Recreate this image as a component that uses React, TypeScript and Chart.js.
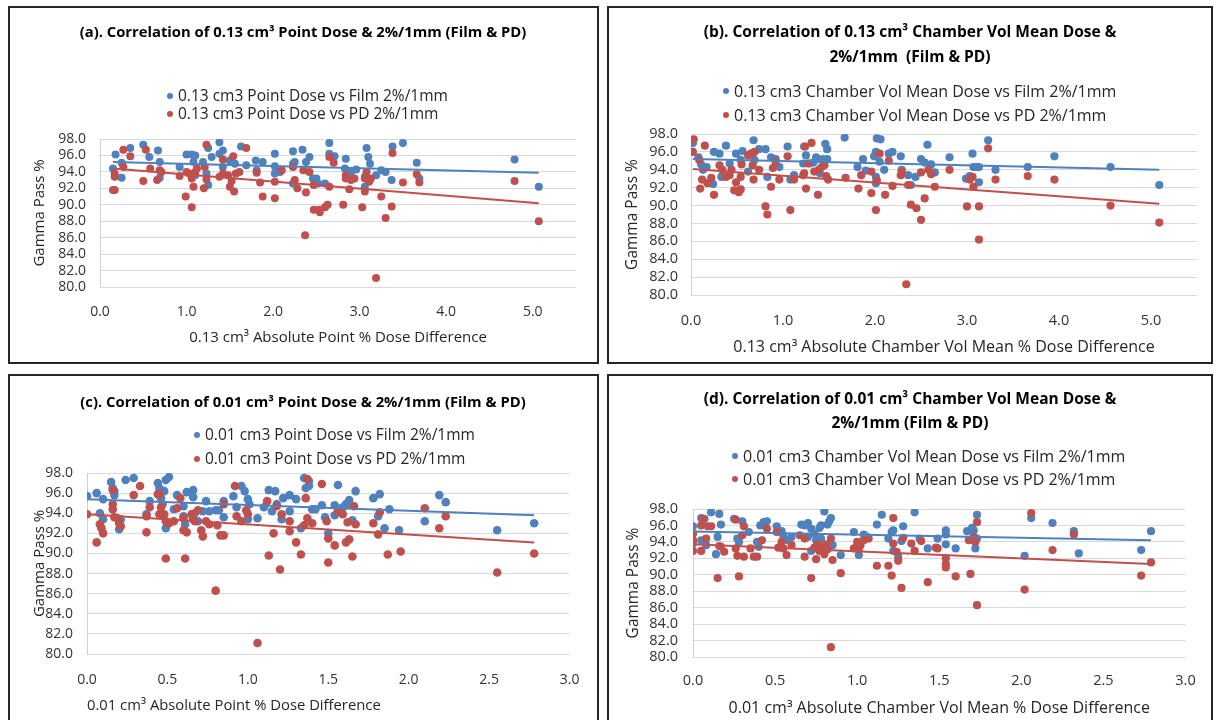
import React, { useEffect, useRef } from "react";
import { Chart, registerables } from "chart.js";

Chart.register(...registerables);

const FONT = "'Open Sans', 'Noto Sans', sans-serif";
const BLUE = "#4F81BD";
const RED = "#C0504D";

// ---------- tick labels ----------
const yTicks = [80, 82, 84, 86, 88, 90, 92, 94, 96, 98];
const xTicksWide = [0, 1, 2, 3, 4, 5];
const xTicksNarrow = [0, 0.5, 1, 1.5, 2, 2.5, 3];

// ---------- (a) 0.13 cm3 point dose ----------
const aFilm = [[0.15,94.4],[0.18,96.1],[0.25,95.1],[0.25,93.3],[0.35,96.9],[0.5,97.3],[0.57,95.8],[0.67,96.6],[0.69,93.3],[0.69,95.2],[0.92,94.6],[1.0,96.1],[1.06,96.1],[1.1,96.0],[1.08,95.2],[1.1,93.6],[1.19,95.2],[1.23,93.8],[1.25,96.9],[1.25,92.4],[1.29,95.8],[1.38,97.6],[1.38,96.2],[1.42,96.6],[1.42,94.6],[1.5,95.4],[1.56,95.0],[1.63,97.1],[1.69,94.8],[1.8,95.4],[1.81,94.2],[1.88,95.2],[2.02,96.2],[2.02,94.7],[2.02,93.8],[2.08,94.0],[2.23,96.5],[2.23,95.0],[2.23,92.6],[2.25,95.2],[2.34,96.7],[2.38,95.2],[2.42,95.8],[2.46,93.2],[2.5,93.2],[2.52,92.6],[2.6,92.6],[2.65,97.5],[2.65,96.2],[2.71,95.9],[2.84,95.6],[2.83,94.4],[2.9,94.0],[2.96,94.3],[3.08,96.9],[3.1,95.8],[3.12,95.0],[3.06,93.4],[3.06,92.2],[3.19,93.6],[3.25,94.2],[3.3,94.0],[3.37,93.0],[3.38,97.1],[3.5,97.5],[3.66,95.1],[3.69,93.2],[4.79,95.5],[5.07,92.2]];
const aPd = [[0.15,91.8],[0.17,91.8],[0.17,93.8],[0.17,93.4],[0.27,96.7],[0.27,94.6],[0.35,95.9],[0.5,92.9],[0.53,96.7],[0.58,94.4],[0.66,93.0],[0.69,94.2],[0.71,94.0],[0.92,93.5],[0.99,91.0],[1.0,94.0],[1.03,93.8],[1.06,89.7],[1.06,93.2],[1.08,92.2],[1.1,94.0],[1.12,94.4],[1.21,94.6],[1.2,92.0],[1.23,97.3],[1.23,93.1],[1.38,93.4],[1.42,95.5],[1.42,93.8],[1.48,93.6],[1.5,92.2],[1.52,92.9],[1.54,95.9],[1.55,91.6],[1.57,93.8],[1.61,94.0],[1.69,96.9],[1.81,93.9],[1.85,92.7],[1.88,91.0],[2.02,92.8],[2.02,90.8],[2.1,94.2],[2.23,94.6],[2.25,93.0],[2.28,92.0],[2.35,94.2],[2.37,86.3],[2.38,91.5],[2.42,94.0],[2.47,92.4],[2.47,89.4],[2.53,89.4],[2.54,89.1],[2.6,89.7],[2.63,90.0],[2.65,95.8],[2.65,92.2],[2.7,95.1],[2.81,90.0],[2.84,93.6],[2.84,93.2],[2.88,91.9],[2.9,93.0],[2.94,93.2],[3.03,89.7],[3.06,91.6],[3.06,93.2],[3.08,94.0],[3.11,92.8],[3.13,93.2],[3.19,81.1],[3.25,91.0],[3.3,88.4],[3.37,89.8],[3.38,96.3],[3.5,92.7],[3.66,93.7],[3.69,92.7],[4.79,92.9],[5.07,88.0]];
const aFilmTrend = [[0.15,95.2],[5.07,93.9]];
const aPdTrend = [[0.15,94.4],[5.07,90.2]];

// ---------- (b) 0.13 cm3 chamber vol mean dose ----------
const bFilm = [[0.02,97.0],[0.08,95.4],[0.11,94.6],[0.13,94.0],[0.17,94.3],[0.24,92.4],[0.25,96.0],[0.31,95.8],[0.33,93.2],[0.38,96.7],[0.42,94.7],[0.49,95.8],[0.54,95.1],[0.56,96.1],[0.62,93.8],[0.68,97.3],[0.69,95.1],[0.74,96.3],[0.81,96.3],[0.83,93.2],[0.87,95.4],[0.92,95.2],[0.96,94.3],[1.05,96.6],[1.08,92.9],[1.12,93.4],[1.23,96.6],[1.25,95.6],[1.22,94.7],[1.29,94.7],[1.33,94.8],[1.36,95.4],[1.4,93.6],[1.43,95.2],[1.46,96.9],[1.48,96.3],[1.48,95.2],[1.67,97.6],[1.81,94.3],[1.87,95.2],[1.9,93.9],[1.99,95.5],[2.01,96.0],[2.02,97.5],[2.06,97.4],[2.01,92.5],[2.01,93.2],[2.05,94.9],[2.1,94.0],[2.15,95.8],[2.19,96.0],[2.28,95.5],[2.29,94.0],[2.36,93.4],[2.39,92.3],[2.44,93.2],[2.5,95.2],[2.54,94.8],[2.57,96.8],[2.61,94.6],[2.65,93.7],[2.81,95.4],[2.99,93.0],[3.03,93.3],[3.06,95.8],[3.07,94.3],[3.1,94.3],[3.13,94.3],[3.13,92.6],[3.23,97.3],[3.31,94.0],[3.66,94.3],[3.95,95.5],[4.56,94.3],[5.09,92.3]];
const bPd = [[0.03,97.4],[0.02,96.0],[0.09,95.1],[0.1,91.9],[0.12,92.9],[0.15,96.7],[0.18,92.5],[0.22,93.1],[0.25,91.2],[0.31,94.5],[0.34,94.0],[0.38,93.2],[0.42,93.4],[0.44,94.0],[0.47,91.7],[0.49,92.6],[0.52,91.5],[0.54,91.8],[0.54,93.2],[0.55,94.6],[0.62,95.6],[0.65,95.8],[0.67,94.5],[0.69,96.0],[0.68,92.9],[0.74,94.0],[0.81,89.9],[0.83,89.0],[0.87,92.1],[0.89,94.2],[0.92,94.9],[0.96,92.9],[1.05,95.5],[1.08,89.5],[1.12,92.9],[1.22,93.4],[1.23,93.6],[1.24,96.6],[1.25,91.9],[1.27,94.7],[1.31,97.0],[1.34,93.8],[1.38,91.2],[1.39,94.0],[1.42,94.3],[1.45,94.5],[1.47,93.3],[1.49,92.9],[1.68,93.1],[1.82,91.9],[1.85,93.4],[1.96,91.4],[1.96,93.8],[2.01,89.5],[2.02,92.8],[2.05,95.8],[2.11,91.2],[2.15,95.0],[2.19,92.2],[2.28,93.4],[2.29,93.8],[2.34,81.2],[2.36,92.3],[2.39,90.1],[2.45,89.7],[2.5,88.4],[2.54,90.8],[2.5,93.7],[2.58,94.0],[2.61,93.5],[2.65,92.1],[2.81,94.0],[3.0,89.9],[3.03,92.9],[3.06,93.2],[3.07,92.1],[3.13,86.2],[3.13,89.9],[3.23,96.4],[3.31,92.9],[3.66,93.3],[3.95,92.9],[4.56,90.0],[5.09,88.1]];
const bFilmTrend = [[0.02,95.2],[5.09,94.0]];
const bPdTrend = [[0.02,94.1],[5.09,90.2]];

// ---------- (c) 0.01 cm3 point dose ----------
const cFilm = [[0.0,95.7],[0.06,96.0],[0.08,94.0],[0.1,95.4],[0.1,93.4],[0.15,97.1],[0.16,96.5],[0.17,96.2],[0.17,95.8],[0.2,92.4],[0.21,93.4],[0.24,97.3],[0.29,97.5],[0.37,93.9],[0.39,95.2],[0.44,97.0],[0.45,96.5],[0.46,95.5],[0.47,94.9],[0.48,96.2],[0.49,97.3],[0.51,97.6],[0.49,92.5],[0.54,94.4],[0.56,95.8],[0.6,94.7],[0.6,93.7],[0.61,92.9],[0.62,96.1],[0.66,96.3],[0.66,95.6],[0.67,94.0],[0.69,93.2],[0.72,94.2],[0.74,95.2],[0.76,94.2],[0.8,94.3],[0.82,94.3],[0.85,95.2],[0.85,93.6],[0.91,95.7],[0.93,94.6],[0.96,96.7],[0.98,96.2],[1.0,95.4],[1.01,94.9],[1.0,93.4],[1.06,93.5],[1.1,94.6],[1.13,96.3],[1.15,94.2],[1.17,96.2],[1.18,94.9],[1.21,93.4],[1.22,95.5],[1.26,95.8],[1.26,94.2],[1.3,95.4],[1.33,92.5],[1.35,97.5],[1.36,96.5],[1.38,96.7],[1.38,97.2],[1.4,94.4],[1.42,94.4],[1.46,94.8],[1.48,93.6],[1.5,92.0],[1.54,93.8],[1.54,94.8],[1.56,96.8],[1.59,94.6],[1.61,94.9],[1.63,95.3],[1.63,94.9],[1.65,93.3],[1.67,96.2],[1.78,95.5],[1.81,93.7],[1.82,95.9],[1.85,92.5],[1.88,94.4],[1.94,92.3],[2.1,93.2],[2.19,95.8],[2.23,95.1],[2.55,92.3],[2.78,93.0]];
const cPd = [[0.0,93.9],[0.06,91.1],[0.08,92.9],[0.09,92.5],[0.1,92.0],[0.16,96.3],[0.16,94.9],[0.16,94.4],[0.17,93.6],[0.19,93.5],[0.2,93.0],[0.21,92.7],[0.29,95.8],[0.33,96.7],[0.37,92.1],[0.37,93.7],[0.39,94.6],[0.44,95.9],[0.45,95.9],[0.45,93.9],[0.46,94.6],[0.48,93.9],[0.49,93.2],[0.49,89.5],[0.51,93.0],[0.54,93.2],[0.56,94.5],[0.58,95.5],[0.6,93.5],[0.6,92.3],[0.61,89.5],[0.62,92.1],[0.65,93.9],[0.66,93.4],[0.67,93.2],[0.69,94.3],[0.71,92.3],[0.72,91.7],[0.74,93.2],[0.76,92.9],[0.8,86.3],[0.81,92.8],[0.83,91.8],[0.85,91.8],[0.85,94.9],[0.92,96.7],[0.93,93.7],[0.96,93.2],[0.99,94.3],[1.0,93.9],[1.06,81.1],[1.12,95.2],[1.13,89.8],[1.16,92.0],[1.18,94.7],[1.2,88.4],[1.21,93.9],[1.26,92.2],[1.26,93.2],[1.3,91.1],[1.33,89.9],[1.35,92.8],[1.36,95.5],[1.37,97.4],[1.37,93.5],[1.4,93.0],[1.46,96.9],[1.49,93.2],[1.5,91.5],[1.5,89.1],[1.54,90.8],[1.56,94.2],[1.58,94.1],[1.59,93.9],[1.61,91.1],[1.63,91.4],[1.62,93.1],[1.66,94.7],[1.67,92.9],[1.65,89.7],[1.78,93.0],[1.81,91.9],[1.82,94.1],[1.87,89.9],[1.95,90.2],[2.1,94.5],[2.19,92.5],[2.23,93.7],[2.55,88.1],[2.78,90.0]];
const cFilmTrend = [[0.0,95.4],[2.78,93.8]];
const cPdTrend = [[0.0,93.9],[2.78,91.1]];

// ---------- (d) 0.01 cm3 chamber vol mean dose ----------
const dFilm = [[0.0,95.9],[0.0,93.8],[0.05,96.9],[0.07,96.8],[0.05,94.2],[0.08,93.6],[0.11,97.6],[0.15,94.6],[0.16,97.4],[0.17,96.1],[0.14,92.5],[0.25,96.8],[0.3,96.5],[0.27,94.4],[0.28,94.0],[0.34,95.2],[0.39,94.0],[0.4,93.4],[0.41,96.0],[0.43,96.4],[0.45,96.5],[0.51,95.9],[0.54,95.3],[0.55,94.8],[0.58,94.2],[0.6,94.6],[0.66,96.1],[0.68,96.0],[0.7,96.3],[0.7,94.6],[0.72,95.6],[0.74,95.0],[0.75,94.2],[0.72,92.9],[0.77,95.7],[0.78,96.0],[0.8,97.7],[0.82,96.1],[0.83,96.5],[0.84,96.9],[0.78,94.4],[0.85,93.6],[0.9,92.4],[0.98,95.2],[1.01,92.4],[1.04,94.9],[1.06,94.6],[1.12,96.1],[1.15,97.3],[1.19,94.4],[1.21,95.2],[1.22,95.4],[1.22,92.9],[1.25,92.2],[1.27,94.1],[1.28,95.9],[1.35,97.6],[1.38,94.4],[1.43,93.2],[1.49,94.4],[1.54,95.4],[1.54,94.9],[1.54,93.7],[1.6,93.2],[1.67,95.3],[1.7,95.7],[1.71,95.4],[1.72,93.2],[1.73,97.3],[1.73,94.4],[2.02,92.3],[2.06,96.9],[2.19,96.3],[2.32,95.3],[2.35,92.6],[2.73,93.0],[2.79,95.3]];
const dPd = [[0.0,95.0],[0.0,94.2],[0.0,92.9],[0.05,96.0],[0.05,92.9],[0.06,96.8],[0.08,94.4],[0.09,95.9],[0.11,95.9],[0.16,93.5],[0.15,89.6],[0.17,93.4],[0.19,92.8],[0.26,96.7],[0.26,93.2],[0.27,92.3],[0.28,89.8],[0.3,94.8],[0.31,92.2],[0.31,95.9],[0.35,93.2],[0.37,92.2],[0.39,92.2],[0.42,94.2],[0.45,95.6],[0.51,95.2],[0.52,93.3],[0.54,94.0],[0.55,93.2],[0.57,92.4],[0.6,93.6],[0.65,94.8],[0.68,94.4],[0.68,92.2],[0.72,89.6],[0.74,93.3],[0.75,91.9],[0.76,93.7],[0.77,92.9],[0.78,93.3],[0.8,92.5],[0.81,93.7],[0.82,93.1],[0.84,94.4],[0.84,81.2],[0.85,91.8],[0.9,90.2],[0.98,93.2],[1.0,94.0],[1.01,93.1],[1.02,93.6],[1.04,94.2],[1.07,94.4],[1.12,91.1],[1.19,91.1],[1.21,89.9],[1.22,96.9],[1.22,93.8],[1.24,92.8],[1.25,91.7],[1.27,88.4],[1.28,94.5],[1.33,93.8],[1.35,92.9],[1.39,94.1],[1.43,89.1],[1.48,93.3],[1.49,93.2],[1.54,92.0],[1.54,91.3],[1.54,90.9],[1.6,89.8],[1.68,94.2],[1.69,90.1],[1.71,94.6],[1.72,94.0],[1.73,86.3],[1.73,96.4],[2.02,88.2],[2.06,97.5],[2.19,93.0],[2.32,94.9],[2.73,89.9],[2.79,91.5]];
const dFilmTrend = [[0.0,95.25],[2.79,94.2]];
const dPdTrend = [[0.0,93.7],[2.79,91.3]];

// ---------- texts ----------
const aTitle = ["(a). Correlation of 0.13 cm³ Point Dose & 2%/1mm (Film & PD)"];
const bTitle = ["(b). Correlation of 0.13 cm³ Chamber Vol Mean Dose &", "2%/1mm  (Film & PD)"];
const cTitle = ["(c). Correlation of 0.01 cm³ Point Dose & 2%/1mm (Film & PD)"];
const dTitle = ["(d). Correlation of 0.01 cm³ Chamber Vol Mean Dose &", "2%/1mm (Film & PD)"];
const aLegend = ["0.13 cm3 Point Dose vs Film 2%/1mm", "0.13 cm3 Point Dose vs PD 2%/1mm"];
const bLegend = ["0.13 cm3 Chamber Vol Mean Dose vs Film 2%/1mm", "0.13 cm3 Chamber Vol Mean Dose vs PD 2%/1mm"];
const cLegend = ["0.01 cm3 Point Dose vs Film 2%/1mm", "0.01 cm3 Point Dose vs PD 2%/1mm"];
const dLegend = ["0.01 cm3 Chamber Vol Mean Dose vs Film 2%/1mm", "0.01 cm3 Chamber Vol Mean Dose vs PD 2%/1mm"];
const aXTitle = "0.13 cm³ Absolute Point % Dose Difference";
const bXTitle = "0.13 cm³ Absolute Chamber Vol Mean % Dose Difference";
const cXTitle = "0.01 cm³ Absolute Point % Dose Difference";
const dXTitle = "0.01 cm³ Absolute Chamber Vol Mean % Dose Difference";
const yTitle = "Gamma Pass %";

type Pair = number[];
type Panel = {
  box: { left: number; top: number; width: number; height: number };
  plot: { left: number; right: number; top: number; bottom: number };
  xMax: number;
  xTicks: number[];
  title: string[];
  titleYs: number[];
  titleCx: number;
  titleSize: number;
  legend: string[];
  legendX: number;
  legendYs: number[];
  legendSize: number;
  yTitleX: number;
  yTitleSize: number;
  xTitle: string;
  xTitleY: number;
  xTitleSize: number;
  xTitleAlign: "center" | "start";
  tickSize: number;
  xTickY: number;
  yTickPad: number;
  pointR: number;
  film: Pair[];
  pd: Pair[];
  filmTrend: Pair[];
  pdTrend: Pair[];
};

const panels: Panel[] = [
  {
    box: { left: 8, top: 6, width: 591, height: 358 },
    plot: { left: 100, right: 576, top: 139, bottom: 287 },
    xMax: 5.5, xTicks: xTicksWide,
    title: aTitle, titleYs: [33], titleCx: 303, titleSize: 14.8,
    legend: aLegend, legendX: 170, legendYs: [96, 114], legendSize: 15.5,
    yTitleX: 40, yTitleSize: 15,
    xTitle: aXTitle, xTitleY: 338, xTitleSize: 15, xTitleAlign: "center",
    tickSize: 14, xTickY: 312, yTickPad: 14, pointR: 4,
    film: aFilm, pd: aPd, filmTrend: aFilmTrend, pdTrend: aPdTrend,
  },
  {
    box: { left: 607, top: 6, width: 606, height: 358 },
    plot: { left: 691, right: 1197, top: 134, bottom: 295 },
    xMax: 5.5, xTicks: xTicksWide,
    title: bTitle, titleYs: [33, 58], titleCx: 910, titleSize: 15.5,
    legend: bLegend, legendX: 726, legendYs: [91, 115], legendSize: 16,
    yTitleX: 633, yTitleSize: 15.5,
    xTitle: bXTitle, xTitleY: 347, xTitleSize: 16, xTitleAlign: "center",
    tickSize: 14.5, xTickY: 321, yTickPad: 13, pointR: 4.1,
    film: bFilm, pd: bPd, filmTrend: bFilmTrend, pdTrend: bPdTrend,
  },
  {
    box: { left: 8, top: 374, width: 591, height: 360 },
    plot: { left: 87, right: 575, top: 473, bottom: 654 },
    xMax: 3, xTicks: xTicksNarrow,
    title: cTitle, titleYs: [403], titleCx: 303, titleSize: 14.8,
    legend: cLegend, legendX: 197, legendYs: [435, 459], legendSize: 15.5,
    yTitleX: 40, yTitleSize: 15,
    xTitle: cXTitle, xTitleY: 706, xTitleSize: 14.8, xTitleAlign: "start",
    tickSize: 14, xTickY: 680, yTickPad: 14, pointR: 4.3,
    film: cFilm, pd: cPd, filmTrend: cFilmTrend, pdTrend: cPdTrend,
  },
  {
    box: { left: 607, top: 374, width: 606, height: 360 },
    plot: { left: 693, right: 1195, top: 509, bottom: 657 },
    xMax: 3, xTicks: xTicksNarrow,
    title: dTitle, titleYs: [400, 424], titleCx: 910, titleSize: 15.5,
    legend: dLegend, legendX: 735, legendYs: [456, 479], legendSize: 16,
    yTitleX: 634, yTitleSize: 15.5,
    xTitle: dXTitle, xTitleY: 708, xTitleSize: 16, xTitleAlign: "center",
    tickSize: 14.5, xTickY: 681, yTickPad: 15, pointR: 4.1,
    film: dFilm, pd: dPd, filmTrend: dFilmTrend, pdTrend: dPdTrend,
  },
];

const toPts = (arr: Pair[]) => arr.map(([x, y]) => ({ x, y }));

const panelTextPlugin = {
  id: "panelText",
  afterDraw(chart: any, _args: any, o: any) {
    const ctx = chart.ctx as CanvasRenderingContext2D;
    ctx.save();
    ctx.textBaseline = "middle";
    ctx.textAlign = "center";
    ctx.fillStyle = "#000";
    ctx.font = `bold ${o.titleSize}px ${FONT}`;
    (o.title as string[]).forEach((t, i) => ctx.fillText(t, o.titleX, o.titleYs[i]));
    ctx.textAlign = "left";
    ctx.font = `${o.legendSize}px ${FONT}`;
    const ds = chart.data.datasets.slice(0, 2);
    ds.forEach((d: any, i: number) => {
      ctx.fillStyle = d.backgroundColor;
      ctx.beginPath();
      ctx.arc(o.legendX, o.legendYs[i], 3, 0, Math.PI * 2);
      ctx.fill();
      ctx.fillStyle = "#262626";
      ctx.fillText(d.label, o.legendX + 8, o.legendYs[i] + 1);
    });
    ctx.restore();
  },
};

function PanelChart({ p }: { p: Panel }) {
  const ref = useRef<HTMLCanvasElement>(null);
  const ox = p.box.left + 2;
  const oy = p.box.top + 2;
  const W = p.box.width - 4;
  const H = p.box.height - 4;

  useEffect(() => {
    const pl = p.plot.left - ox;
    const pr = p.plot.right - ox;
    const pt = p.plot.top - oy;
    const pb = p.plot.bottom - oy;
    const tickFont = { family: FONT, size: p.tickSize };
    const tickLH = p.tickSize * 1.2;
    const yTitleLH = p.yTitleSize * 1.2;
    const xTitleLH = p.xTitleSize * 1.2;

    const chart = new Chart(ref.current as HTMLCanvasElement, {
      type: "scatter",
      data: {
        datasets: [
          {
            label: p.legend[0],
            data: toPts(p.film),
            backgroundColor: BLUE,
            borderColor: BLUE,
            pointRadius: p.pointR,
            pointBorderWidth: 0,
            order: 3,
          },
          {
            label: p.legend[1],
            data: toPts(p.pd),
            backgroundColor: RED,
            borderColor: RED,
            pointRadius: p.pointR,
            pointBorderWidth: 0,
            order: 2,
          },
          {
            type: "line",
            label: "Film trend",
            data: toPts(p.filmTrend),
            borderColor: BLUE,
            backgroundColor: BLUE,
            borderWidth: 2,
            pointRadius: 0,
            fill: false,
            order: 1,
          },
          {
            type: "line",
            label: "PD trend",
            data: toPts(p.pdTrend),
            borderColor: RED,
            backgroundColor: RED,
            borderWidth: 2,
            pointRadius: 0,
            fill: false,
            order: 0,
          },
        ] as any,
      },
      options: {
        animation: false,
        responsive: false,
        maintainAspectRatio: false,
        layout: { padding: { left: 0, top: pt, right: W - pr, bottom: 0 } },
        plugins: {
          legend: { display: false },
          title: { display: false },
          tooltip: { enabled: false },
          panelText: {
            title: p.title,
            titleYs: p.titleYs.map((v) => v - oy),
            titleX: p.titleCx - ox,
            titleSize: p.titleSize,
            legendX: p.legendX - ox,
            legendYs: p.legendYs.map((v) => v - oy),
            legendSize: p.legendSize,
          },
        } as any,
        scales: {
          x: {
            type: "linear",
            min: 0,
            max: p.xMax,
            afterBuildTicks: (s: any) => {
              s.ticks = p.xTicks.map((v) => ({ value: v }));
            },
            afterFit: (s: any) => {
              s.height = H - pb;
            },
            grid: { display: false, drawTicks: false },
            border: { display: false },
            ticks: {
              font: tickFont,
              color: "#333",
              padding: p.xTickY - p.plot.bottom - tickLH / 2,
              maxRotation: 0,
              autoSkip: false,
              callback: (v: any) => Number(v).toFixed(1),
            },
            title: {
              display: true,
              text: p.xTitle,
              align: p.xTitleAlign,
              color: "#262626",
              font: { family: FONT, size: p.xTitleSize },
              padding: { top: 0, bottom: H - (p.xTitleY - oy) - xTitleLH / 2 },
            },
          },
          y: {
            type: "linear",
            min: 80,
            max: 98,
            afterBuildTicks: (s: any) => {
              s.ticks = yTicks.map((v) => ({ value: v }));
            },
            afterFit: (s: any) => {
              s.width = pl;
            },
            grid: { color: "#d9d9d9", lineWidth: 1, drawTicks: false },
            border: { display: true, color: "#d0d0d0", width: 1 },
            ticks: {
              font: tickFont,
              color: "#333",
              padding: p.yTickPad,
              autoSkip: false,
              callback: (v: any) => Number(v).toFixed(1),
            },
            title: {
              display: true,
              text: yTitle,
              color: "#262626",
              font: { family: FONT, size: p.yTitleSize },
              padding: { top: p.yTitleX - ox - yTitleLH / 2, bottom: 0 },
            },
          },
        },
      } as any,
      plugins: [panelTextPlugin],
    });
    return () => chart.destroy();
  }, []);

  return (
    <div
      style={{
        position: "absolute",
        left: p.box.left,
        top: p.box.top,
        width: p.box.width,
        height: p.box.height,
        border: "2px solid #262626",
        boxSizing: "border-box",
        background: "#fff",
      }}
    >
      <canvas ref={ref} width={W} height={H} style={{ display: "block", width: W, height: H }} />
    </div>
  );
}

export default function App() {
  return (
    <div
      style={{
        position: "fixed",
        left: 0,
        top: 0,
        width: 1216,
        height: 720,
        overflow: "hidden",
        background: "#fff",
      }}
    >
      {panels.map((p, i) => (
        <PanelChart key={i} p={p} />
      ))}
    </div>
  );
}
